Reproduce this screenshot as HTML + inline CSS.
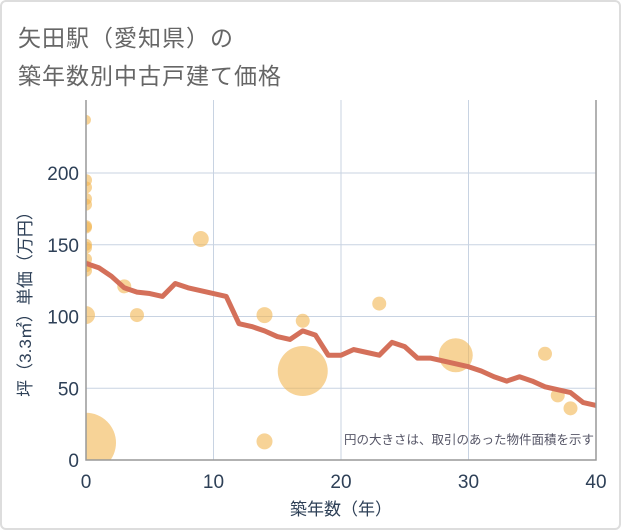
<!DOCTYPE html>
<html><head><meta charset="utf-8"><style>
body{margin:0;background:#fff}
#wrap{position:relative;width:617px;height:526px;border:2px solid #ddd;border-radius:6px;overflow:hidden;background:#fff}
.t{position:absolute;left:16px;font:23px "Liberation Sans","Noto Sans CJK JP",sans-serif;color:#666;letter-spacing:1px}
svg{position:absolute;left:-2px;top:-2px}
text{font-family:"Liberation Sans","Noto Sans CJK JP",sans-serif}
</style></head><body>
<div id="wrap">
<div class="t" style="top:17px">矢田駅（愛知県）の</div>
<div class="t" style="top:55px">築年数別中古戸建て価格</div>
<svg id="chart" width="621" height="530"><defs><clipPath id="pc"><rect x="86" y="100" width="510" height="360"/></clipPath></defs></svg>
</div>
<script>
const lineYears=[0,1,2,3,4,5,6,7,8,9,10,11,12,13,14,15,16,17,18,19,20,21,22,23,24,25,26,27,28,29,30,31,32,33,34,35,36,37,38,39,40];
const lineValues=[137,134,128,120,117,116,114,123,120,118,116,114,95,93,90,86,84,90,87,73,73,77,75,73,82,79,71,71,69,67,65,62,58,55,58,55,51,49,47,40,38];
const bubbleYears=[0,0,0,0,0,0,0,0,0,0,0,0,0,0,3,4,9,14,14,17,17,23,29,36,37,38];
const bubbleValues=[237,195,190,182,178,163,162,150,148,140,135,132,101,12,121,101,154,101,13,97,62,109,73,74,45,36];
const bubbleRadii=[5,6,6,6,6,6,6,6,6,6,6,6,9,30,7,7,8,8,8,7,25,7,17,7,7,7];
const xTicks=[0,10,20,30,40];
const yTicks=[0,50,100,150,200];
const L=86,R=596,T=100,B=460;
const xs=v=>L+(v/40)*(R-L);
const ys=v=>B-v*1.435;
const svg=document.getElementById('chart');
const NS='http://www.w3.org/2000/svg';
function mk(tag,attrs,parent){const e=document.createElementNS(NS,tag);for(const k in attrs)e.setAttribute(k,attrs[k]);(parent||svg).appendChild(e);return e;}
xTicks.forEach(t=>{
  if(t>0&&t<40){const g=mk('line',{x1:xs(t),x2:xs(t),y1:T,y2:B,stroke:'#c8d3e2','stroke-width':1});
  
  }
  const tx=mk('text',{x:xs(t),y:488,'text-anchor':'middle','font-size':19,fill:'#2e4057'});tx.textContent=t;
  
  
});
yTicks.forEach(t=>{
  if(t>0){const g=mk('line',{x1:L,x2:R,y1:ys(t),y2:ys(t),stroke:'#c8d3e2','stroke-width':1});
  
  }
  const tx=mk('text',{x:79,y:ys(t)+7,'text-anchor':'end','font-size':19,fill:'#2e4057'});tx.textContent=t;
  
  
});
const grp=mk('g',{'clip-path':'url(#pc)'});


bubbleYears.forEach((yr,i)=>{
  const c=mk('circle',{cx:xs(yr),cy:ys(bubbleValues[i]),r:bubbleRadii[i],fill:'#f2b652','fill-opacity':0.6},grp);
  
  
});
const pts=lineYears.map((y,i)=>xs(y)+','+ys(lineValues[i])).join(' ');
const pl=mk('polyline',{points:pts,fill:'none',stroke:'#d4705a','stroke-width':5,'stroke-linejoin':'round'},grp);


const ax=mk('path',{d:`M${L} ${T}V${B}H${R}V${T}`,fill:'none',stroke:'#999','stroke-width':1.5});


const note=mk('text',{x:594,y:444,'text-anchor':'end','font-size':12.5,fill:'#556'});note.textContent='円の大きさは、取引のあった物件面積を示す';


const xt=mk('text',{x:341,y:515,'text-anchor':'middle','font-size':17,fill:'#2e4057'});xt.textContent='築年数（年）';


const yt=mk('text',{x:0,y:0,'text-anchor':'middle','font-size':17,fill:'#2e4057',transform:'translate(31,300) rotate(-90)'});yt.textContent='坪（3.3㎡）単価（万円）';


</script>
</body></html>
